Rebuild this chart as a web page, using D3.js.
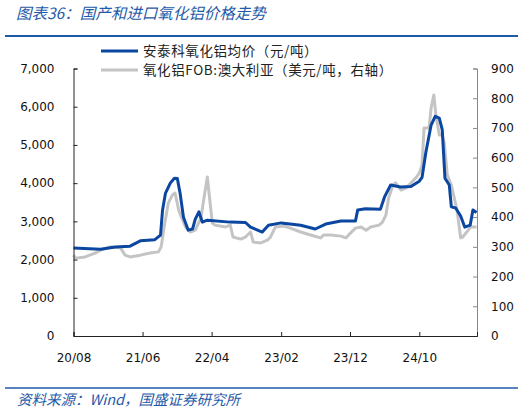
<!DOCTYPE html>
<html lang="zh">
  <head>
    <meta charset="UTF-8" />
    <script src="https://d3js.org/d3.v7.min.js"></script>
    <title>国产和进口氧化铝价格走势</title>
    <style>
      body { margin: 0; background: #fff; }
      svg { display: block; font-family: "DejaVu Sans", sans-serif; }
      .cjk { font-family: "Noto Sans CJK SC", sans-serif; }
    </style>
  </head>
  <body>
    <svg width="525" height="413"></svg>
    <script>
      // 安泰科氧化铝均价（元/吨）
      var domesticDates = [
        "2020-08-01", "2020-11-28", "2021-02-01", "2021-04-07", "2021-05-22",
        "2021-07-25", "2021-08-19", "2021-08-28", "2021-09-10", "2021-10-01",
        "2021-10-19", "2021-11-01", "2021-11-13", "2021-11-28", "2021-12-19",
        "2022-01-07", "2022-01-19", "2022-02-04", "2022-02-19", "2022-03-13",
        "2022-06-22", "2022-08-28", "2022-09-19", "2022-11-10", "2022-12-07",
        "2023-02-01", "2023-04-28", "2023-07-01", "2023-08-16", "2023-10-22",
        "2023-12-25", "2024-01-04", "2024-02-07", "2024-04-13", "2024-05-01",
        "2024-05-28", "2024-07-10", "2024-08-25", "2024-10-01", "2024-10-13",
        "2024-10-30", "2024-11-22", "2024-12-10", "2024-12-28", "2025-01-10",
        "2025-01-22", "2025-02-10", "2025-02-19", "2025-03-10", "2025-04-01",
        "2025-04-19", "2025-05-13", "2025-05-25", "2025-06-10"
      ];
      var domesticPrice = [
        2300, 2270, 2330, 2350, 2490,
        2520, 2640, 3300, 3740, 4000,
        4130, 4120, 3740, 3110, 2770,
        2800, 3060, 3250, 2980, 3030,
        2980, 2970, 2850, 2720, 2900,
        2960, 2900, 2800, 2930, 3010,
        3010, 3300, 3330, 3320, 3640,
        3950, 3900, 3910, 4050, 4150,
        4810, 5520, 5750, 5700, 5400,
        4130, 3950, 3380, 3350, 3140,
        2850, 2900, 3300, 3230
      ];

      // 氧化铝FOB:澳大利亚（美元/吨，右轴）
      var fobDates = [
        "2020-08-01", "2020-08-09", "2020-09-21", "2020-11-04", "2020-11-28",
        "2021-01-10", "2021-02-24", "2021-03-16", "2021-04-07", "2021-05-22",
        "2021-07-04", "2021-08-10", "2021-08-22", "2021-09-04", "2021-09-22",
        "2021-10-10", "2021-10-22", "2021-11-07", "2021-11-19", "2021-12-07",
        "2021-12-28", "2022-01-19", "2022-02-13", "2022-02-25", "2022-03-13",
        "2022-03-25", "2022-04-04", "2022-04-16", "2022-06-01", "2022-06-22",
        "2022-07-04", "2022-08-07", "2022-08-28", "2022-09-19", "2022-10-01",
        "2022-11-04", "2022-12-04", "2022-12-16", "2023-01-07", "2023-02-13",
        "2023-03-13", "2023-04-28", "2023-06-10", "2023-07-25", "2023-08-07",
        "2023-09-07", "2023-10-22", "2023-11-13", "2023-12-04", "2023-12-25",
        "2024-01-19", "2024-02-10", "2024-03-01", "2024-04-07", "2024-04-22",
        "2024-05-07", "2024-05-19", "2024-06-07", "2024-06-19", "2024-07-13",
        "2024-08-04", "2024-08-25", "2024-09-16", "2024-10-01", "2024-10-13",
        "2024-10-22", "2024-11-13", "2024-11-22", "2024-12-04", "2024-12-13",
        "2024-12-28", "2025-01-10", "2025-01-19", "2025-02-01", "2025-02-19",
        "2025-03-01", "2025-03-16", "2025-04-01", "2025-04-10", "2025-04-28",
        "2025-05-16", "2025-06-10"
      ];
      var fobPrice = [
        272, 262, 266, 279, 289,
        300, 296, 272, 266, 272,
        279, 283, 300, 367, 447,
        474, 481, 424, 400, 367,
        350, 356, 397, 458, 535,
        450, 380, 373, 367, 373,
        333, 326, 333, 350, 316,
        313, 323, 333, 367, 370,
        363, 350, 340, 330, 340,
        340, 336, 330, 347, 363,
        367, 356, 367, 373, 383,
        407, 464, 508, 515, 491,
        498, 515, 532, 548, 575,
        700, 700, 767, 811, 744,
        676, 676, 650, 542, 508,
        474, 424, 330, 333, 350,
        367, 367
      ];

      var xTickDates = ["2020-08-01", "2021-06-01", "2022-04-01", "2023-02-01", "2023-12-01", "2024-10-01"];
      var xDomain = ["2020-08-01", "2025-06-12"];
      var leftTicks = [0, 1000, 2000, 3000, 4000, 5000, 6000, 7000];
      var rightTicks = [0, 100, 200, 300, 400, 500, 600, 700, 800, 900];

      var parse = d3.timeParse("%Y-%m-%d");
      var svg = d3.select("svg");
      var blue = "#0b47a1",
        grey = "#c4c4c4",
        titleBlue = "#1f5aa8";

      var plotLeft = 73.5, plotRight = 477, plotTop = 68.5, plotBottom = 336;

      var x = d3.scaleTime()
        .domain(xDomain.map(parse))
        .range([plotLeft, plotRight]);
      var yL = d3.scaleLinear().domain([0, 7000]).range([plotBottom, plotTop]);
      var yR = d3.scaleLinear().domain([0, 900]).range([plotBottom, plotTop]);

      // title + rules
      svg.append("text")
        .attr("class", "cjk")
        .attr("x", 16)
        .attr("y", 19)
        .attr("fill", titleBlue)
        .attr("font-size", 15.5)
        .attr("font-style", "italic")
        .text("图表36：国产和进口氧化铝价格走势");

      svg.append("line")
        .attr("x1", 5).attr("x2", 518)
        .attr("y1", 36).attr("y2", 36)
        .attr("stroke", titleBlue)
        .attr("stroke-width", 2);

      svg.append("line")
        .attr("x1", 5).attr("x2", 518)
        .attr("y1", 388).attr("y2", 388)
        .attr("stroke", titleBlue)
        .attr("stroke-width", 1.3);

      svg.append("text")
        .attr("class", "cjk")
        .attr("x", 17)
        .attr("y", 405)
        .attr("fill", titleBlue)
        .attr("font-size", 14.5)
        .attr("font-style", "italic")
        .text("资料来源：Wind，国盛证券研究所");

      // series
      var domestic = domesticDates.map(function (d, i) {
        return { date: parse(d), value: domesticPrice[i] };
      });
      var fob = fobDates.map(function (d, i) {
        return { date: parse(d), value: fobPrice[i] };
      });

      svg.append("path")
        .datum(fob)
        .attr("fill", "none")
        .attr("stroke", grey)
        .attr("stroke-width", 3)
        .attr("stroke-linejoin", "round")
        .attr("d", d3.line()
          .x(function (d) { return x(d.date); })
          .y(function (d) { return yR(d.value); }));

      svg.append("path")
        .datum(domestic)
        .attr("fill", "none")
        .attr("stroke", blue)
        .attr("stroke-width", 3)
        .attr("stroke-linejoin", "round")
        .attr("d", d3.line()
          .x(function (d) { return x(d.date); })
          .y(function (d) { return yL(d.value); }));

      // axes
      var axisL = svg.append("g")
        .attr("transform", "translate(" + plotLeft + ",0)")
        .call(d3.axisRight(yL).tickValues(leftTicks).tickSize(4).tickFormat(d3.format(",")));
      axisL.select(".domain").attr("stroke", "#222");
      axisL.selectAll(".tick line").attr("stroke", "#222");
      axisL.selectAll(".tick text")
        .attr("x", -19)
        .attr("text-anchor", "end")
        .attr("font-size", 12)
        .attr("font-family", "DejaVu Sans")
        .attr("fill", "#111");

      var axisR = svg.append("g")
        .attr("transform", "translate(" + plotRight + ",0)")
        .call(d3.axisLeft(yR).tickValues(rightTicks).tickSize(4));
      axisR.select(".domain").attr("stroke", "#888");
      axisR.selectAll(".tick line").attr("stroke", "#888");
      axisR.selectAll(".tick text")
        .attr("x", 14)
        .attr("text-anchor", "start")
        .attr("font-size", 12)
        .attr("font-family", "DejaVu Sans")
        .attr("fill", "#111");

      var axisB = svg.append("g")
        .attr("transform", "translate(0," + plotBottom + ")")
        .call(d3.axisTop(x).tickValues(xTickDates.map(parse)).tickSize(4).tickFormat(d3.timeFormat("%y/%m")));
      axisB.select(".domain").attr("stroke", "#222");
      axisB.selectAll(".tick line").attr("stroke", "#222");
      axisB.selectAll(".tick text")
        .attr("y", 22)
        .attr("dy", "0.32em")
        .attr("font-size", 12)
        .attr("font-family", "DejaVu Sans")
        .attr("fill", "#111");

      // legend
      var legendItems = [
        { label: "安泰科氧化铝均价（元/吨）", color: blue, y: 51 },
        { label: "氧化铝FOB:澳大利亚（美元/吨，右轴）", color: grey, y: 70 }
      ];
      var legend = svg.append("g")
        .selectAll("g")
        .data(legendItems)
        .enter()
        .append("g")
        .attr("transform", function (d) { return "translate(0," + d.y + ")"; });

      legend.append("line")
        .attr("x1", 101).attr("x2", 138)
        .attr("stroke", function (d) { return d.color; })
        .attr("stroke-width", 3);

      legend.append("text")
        .attr("class", "cjk")
        .attr("x", 143)
        .attr("dy", "0.35em")
        .attr("font-size", 13.5)
        .attr("letter-spacing", 0.6)
        .attr("fill", "#222")
        .text(function (d) { return d.label; });
    </script>
  </body>
</html>
